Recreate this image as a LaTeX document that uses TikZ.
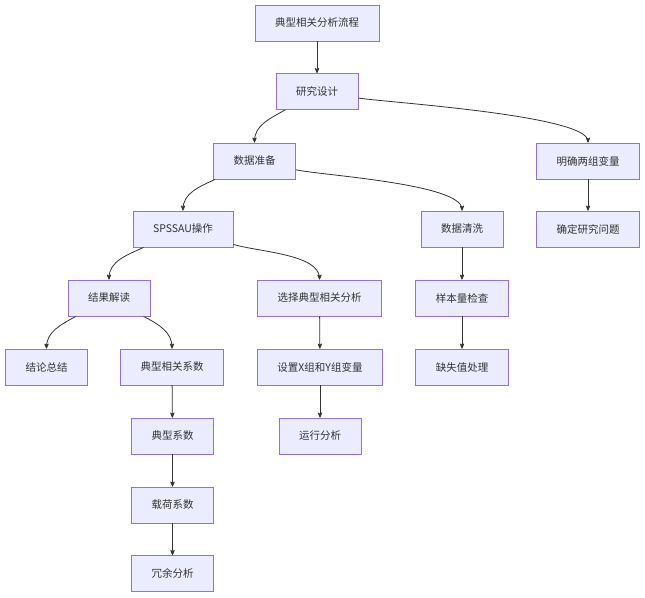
\documentclass[tikz,border=0pt]{standalone}
\usepackage{fontspec}
\setmainfont{Noto Sans CJK SC}
\usepackage{xcolor}
\usetikzlibrary{arrows}

\definecolor{boxfill}{HTML}{ECECFF}
\definecolor{boxline}{HTML}{9370DB}
\definecolor{flowline}{HTML}{333333}

\begin{document}
\begin{tikzpicture}[
      x=1pt, y=1pt,
      stage/.style={
        draw=boxline,
        fill=boxfill,
        line width=0.8pt,
        minimum height=36pt,
        inner xsep=20pt,
        text=black!80,
        font=\fontsize{10.5}{12}\selectfont
      },
      flow/.style={->, >=stealth', thick, draw=flowline}
    ]
      \path[use as bounding box] (0,0) rectangle (645,-597);

      % Top of the flow
      \node[stage] (lc) at (317,-23) {典型相关分析流程};
      \node[stage] (sj) at (317,-91.5) {研究设计};

      % Second level
      \node[stage] (zb) at (254.5,-161) {数据准备};
      \node[stage] (bl) at (588,-161) {明确两组变量};
      \node[stage] (wt) at (588,-229) {确定研究问题};

      % Data preparation branch
      \node[stage] (spss) at (183,-229) {SPSSAU操作};
      \node[stage] (qx) at (462,-229) {数据清洗};
      \node[stage] (ybl) at (462,-298) {样本量检查};
      \node[stage] (qs) at (462,-367) {缺失值处理};

      % SPSSAU branch
      \node[stage] (jd) at (109,-298) {结果解读};
      \node[stage] (xz) at (319.5,-298) {选择典型相关分析};
      \node[stage] (sz) at (320,-367) {设置X组和Y组变量};
      \node[stage] (yx) at (320,-436) {运行分析};

      % Results
      \node[stage] (zj) at (46.5,-367) {结论总结};
      \node[stage] (xgxs) at (172,-367) {典型相关系数};
      \node[stage] (dxxs) at (172.5,-436) {典型系数};
      \node[stage] (hzxs) at (172.5,-505) {载荷系数};
      \node[stage] (ry) at (172.5,-573.5) {冗余分析};

      % Connections
      \draw[flow] (lc) -- (sj);
      \draw[flow] (sj) to[out=-150, in=90] (zb);
      \draw[flow] (sj) to[out=-9, in=90, looseness=0.3] (bl);
      \draw[flow] (bl) -- (wt);
      \draw[flow] (zb) to[out=-155, in=90] (spss);
      \draw[flow] (zb) to[out=-12, in=90, looseness=0.4] (qx);
      \draw[flow] (qx) -- (ybl);
      \draw[flow] (ybl) -- (qs);
      \draw[flow] (spss) to[out=-155, in=90] (jd);
      \draw[flow] (spss) to[out=-17, in=90, looseness=0.7] (xz);
      \draw[flow] (xz) -- (sz);
      \draw[flow] (sz) -- (yx);
      \draw[flow] (jd) to[out=-151, in=90] (zj);
      \draw[flow] (jd) to[out=-28, in=90] (xgxs);
      \draw[flow] (xgxs) -- (dxxs);
      \draw[flow] (dxxs) -- (hzxs);
      \draw[flow] (hzxs) -- (ry);
    \end{tikzpicture}
\end{document}
